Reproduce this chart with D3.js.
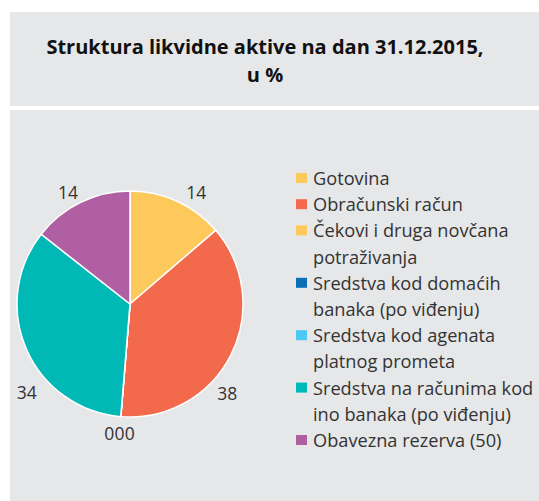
<!DOCTYPE html>
<html>
<head>
<meta charset="utf-8">
<script src="https://cdn.jsdelivr.net/npm/d3@7"></script>
<style>
  body { margin: 0; background: #fff; }
  text { font-family: "Open Sans", sans-serif; }
</style>
</head>
<body>
<div class="chart"></div>
<script>
// Data
var categories = [
  "Gotovina",
  "Obračunski račun",
  "Čekovi i druga novčana potraživanja",
  "Sredstva kod domaćih banaka (po viđenju)",
  "Sredstva kod agenata platnog prometa",
  "Sredstva na računima kod ino banaka (po viđenju)",
  "Obavezna rezerva (50)"
];
var legendLines = [
  ["Gotovina"],
  ["Obračunski račun"],
  ["Čekovi i druga novčana", "potraživanja"],
  ["Sredstva kod domaćih", "banaka (po viđenju)"],
  ["Sredstva kod agenata", "platnog prometa"],
  ["Sredstva na računima kod", "ino banaka (po viđenju)"],
  ["Obavezna rezerva (50)"]
];
var values = [13.7, 37.6, 0, 0, 0, 34.3, 14.4];
var colors = ["#fec95b", "#f2694b", "#fec95b", "#0a6fb5", "#4cc8f4", "#00b9b7", "#b05fa3"];
var titleLines = ["Struktura likvidne aktive na dan 31.12.2015,", "u %"];

var svgWidth = 539;
var svgHeight = 501;

var svg = d3.select(".chart")
  .append("svg")
  .attr("width", svgWidth)
  .attr("height", svgHeight);

// title box
svg.append("rect")
  .attr("x", 10).attr("y", 12)
  .attr("width", svgWidth - 10).attr("height", 94)
  .attr("fill", "#e6e7e8");

// chart box
svg.append("rect")
  .attr("x", 10).attr("y", 110)
  .attr("width", svgWidth - 10).attr("height", svgHeight - 110)
  .attr("fill", "#e6e7e8");

svg.selectAll(".title")
  .data(titleLines)
  .enter()
  .append("text")
  .attr("class", "title")
  .attr("x", 265)
  .attr("y", (d, i) => 54 + i * 28)
  .attr("text-anchor", "middle")
  .style("font-size", "20px")
  .style("font-weight", "bold")
  .attr("fill", "#111")
  .text(d => d);

// Pie
var radius = 113;
var cx = 130, cy = 304;

var pie = d3.pie().sort(null).value(d => d);
var arcs = pie(values);

var arc = d3.arc().innerRadius(0).outerRadius(radius);

var pieGroup = svg.append("g")
  .attr("transform", `translate(${cx}, ${cy})`);

pieGroup.selectAll("path")
  .data(arcs)
  .enter()
  .append("path")
  .attr("d", arc)
  .attr("fill", (d, i) => colors[i])
  .attr("stroke", "#fff")
  .attr("stroke-width", 1.5);

// labels were nudged off the mid angle in the original
var labelNudge = [6, 15.5, 0, 0, 0, -17, -3];
var labelRadius = [130, 132, 129, 129, 129, 136, 128];

pieGroup.selectAll(".lbl")
  .data(arcs)
  .enter()
  .append("text")
  .attr("class", "lbl")
  .attr("text-anchor", "middle")
  .attr("dominant-baseline", "central")
  .style("font-size", "17.5px")
  .attr("fill", "#333")
  .attr("transform", function (d, i) {
    var a = (d.startAngle + d.endAngle) / 2 + labelNudge[i] * Math.PI / 180;
    var r = labelRadius[i];
    var dx = 0;
    if (d.value === 0) dx = (i - 3) * 10.2;
    return `translate(${r * Math.sin(a) + dx}, ${-r * Math.cos(a)})`;
  })
  .text(d => Math.round(d.value));

// Legend
var legend = svg.append("g").attr("transform", "translate(296, 178)");
var lineH = 26.2;
var row = 0;
legendLines.forEach(function (lines, i) {
  var g = legend.append("g").attr("transform", `translate(0, ${row * lineH})`);
  g.append("rect")
    .attr("x", 0).attr("y", -5)
    .attr("width", 11).attr("height", 10)
    .attr("fill", colors[i]);
  g.selectAll("text")
    .data(lines)
    .enter()
    .append("text")
    .attr("x", 17)
    .attr("y", (d, j) => j * lineH)
    .attr("dominant-baseline", "central")
    .style("font-size", "18.2px")
    .attr("fill", "#333")
    .text(d => d);
  row += lines.length;
});
</script>
</body>
</html>
